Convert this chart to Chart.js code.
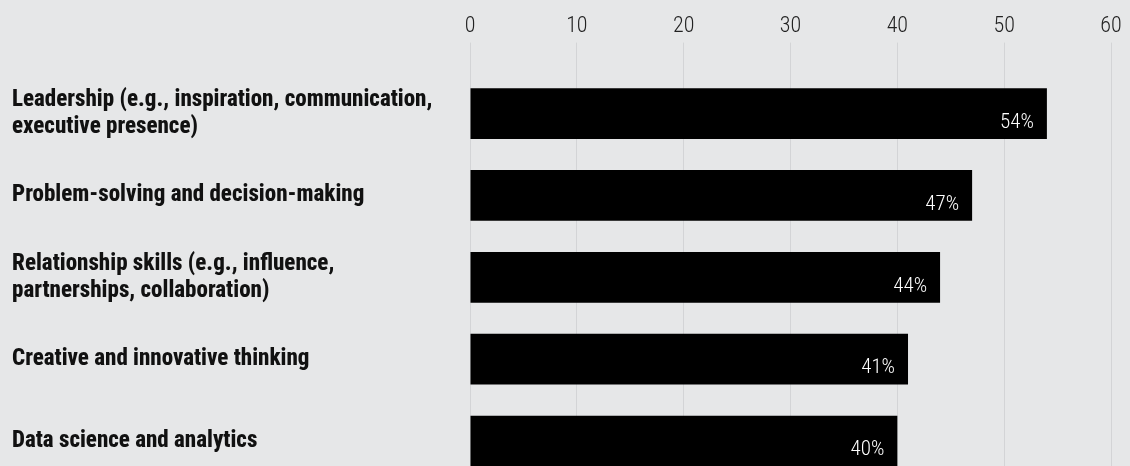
<!DOCTYPE html>
<html>
<head>
<meta charset="utf-8">
<script src="https://cdn.jsdelivr.net/npm/chart.js@4.4.1/dist/chart.umd.min.js"></script>
<style>
  html, body { margin: 0; padding: 0; background: #e6e7e8; overflow: hidden; }
  #wrap { position: relative; width: 1130px; height: 466px; overflow: hidden; }
</style>
</head>
<body>
<div id="wrap"><canvas id="c" width="1130" height="482"></canvas></div>
<script>
const categories = [
  ["Leadership (e.g., inspiration, communication,", "executive presence)"],
  "Problem-solving and decision-making",
  ["Relationship skills (e.g., influence,", "partnerships, collaboration)"],
  "Creative and innovative thinking",
  "Data science and analytics"
];
const values = [54, 47, 44, 41, 40];
const valueLabels = ["54%", "47%", "44%", "41%", "40%"];
const xTicks = [0, 10, 20, 30, 40, 50, 60];

const condensed = '"Roboto Condensed", "Liberation Sans Narrow", "DejaVu Sans Condensed", sans-serif';

const valueLabelPlugin = {
  id: 'valueLabels',
  afterDatasetsDraw(chart) {
    const ctx = chart.ctx;
    const meta = chart.getDatasetMeta(0);
    ctx.save();
    ctx.fillStyle = '#ffffff';
    ctx.font = '300 21px ' + condensed;
    ctx.textAlign = 'right';
    ctx.textBaseline = 'middle';
    meta.data.forEach((bar, i) => {
      ctx.fillText(valueLabels[i], bar.x - 13, bar.y + 9);
    });
    ctx.restore();
  }
};

new Chart(document.getElementById('c'), {
  type: 'bar',
  data: {
    labels: categories,
    datasets: [{
      data: values,
      backgroundColor: '#000000',
      borderWidth: 0,
      barPercentage: 1,
      categoryPercentage: 0.62
    }]
  },
  options: {
    indexAxis: 'y',
    responsive: false,
    animation: false,
    layout: { padding: { left: 12, right: 19, top: 0, bottom: 0 } },
    plugins: { legend: { display: false }, tooltip: { enabled: false } },
    scales: {
      x: {
        position: 'top',
        min: 0,
        max: 60,
        afterBuildTicks(scale) { scale.ticks = xTicks.map(v => ({ value: v })); },
        afterFit(scale) { scale.height = 72.6; },
        border: { display: false },
        grid: {
          color: '#d3d4d6',
          lineWidth: 1,
          drawTicks: true,
          tickLength: 30,
          tickColor: '#d3d4d6'
        },
        ticks: {
          color: '#222222',
          padding: 3,
          font: { family: condensed, size: 22, weight: '300' }
        }
      },
      y: {
        afterFit(scale) { scale.width = 458; scale.paddingTop = 0; scale.paddingBottom = 0; },
        border: { display: false },
        grid: { display: false },
        ticks: {
          crossAlign: 'far',
          color: '#111111',
          padding: 0,
          font: { family: condensed, size: 23, weight: '800', lineHeight: 1.17 }
        }
      }
    }
  },
  plugins: [valueLabelPlugin]
});
</script>
</body>
</html>
